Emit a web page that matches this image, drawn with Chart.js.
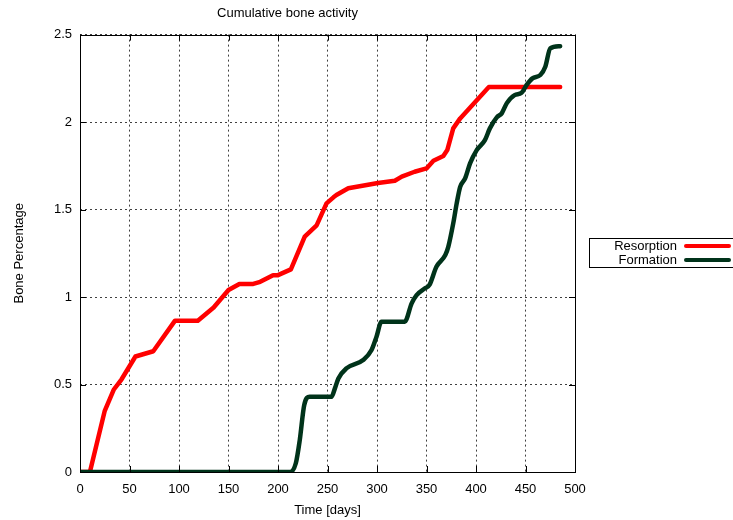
<!DOCTYPE html>
<html lang="en">
<head>
    <meta charset="UTF-8">
    <title>Cumulative bone activity</title>
    <script src="https://cdn.jsdelivr.net/npm/chart.js"></script>
    <style>
        body { margin: 0; padding: 0; background: #fff; }
        #wrap { width: 733px; height: 520px; position: relative; }
    </style>
</head>
<body>
<div id="wrap"><canvas id="boneChart"></canvas></div>
<script>
    // values
    const resorptionDays = [0, 10, 25, 34, 42, 56, 74, 96, 119, 135, 150, 161, 175, 182, 195, 200, 213, 227, 239, 249, 256, 259, 271, 301, 318, 325, 338, 350, 357, 367, 371, 377, 384, 413, 485];
    const resorptionVals = [0, 0, 0.35, 0.47, 0.53, 0.66, 0.69, 0.865, 0.865, 0.94, 1.04, 1.075, 1.075, 1.087, 1.125, 1.125, 1.158, 1.345, 1.41, 1.535, 1.57, 1.583, 1.622, 1.652, 1.665, 1.688, 1.716, 1.735, 1.779, 1.806, 1.84, 1.964, 2.021, 2.2, 2.2];

    const formationDays = [0, 212, 218, 222, 226.5, 232, 254, 257.5, 261, 269, 286, 294.5, 299.5, 304.5, 328, 335, 340, 348.5, 353, 360, 369, 372, 377, 380.5, 384, 389, 394, 400.7, 409, 414, 421, 426, 431, 439, 446, 451, 457, 465, 470, 475, 485];
    const formationVals = [0, 0, 0.05, 0.183, 0.383, 0.43, 0.43, 0.478, 0.535, 0.592, 0.64, 0.697, 0.773, 0.859, 0.859, 0.964, 1.011, 1.05, 1.069, 1.173, 1.24, 1.287, 1.421, 1.535, 1.63, 1.678, 1.764, 1.84, 1.897, 1.964, 2.027, 2.05, 2.107, 2.154, 2.167, 2.211, 2.25, 2.269, 2.316, 2.421, 2.434];

    const xTicks = [0, 50, 100, 150, 200, 250, 300, 350, 400, 450, 500];
    const yTicks = [0, 0.5, 1, 1.5, 2, 2.5];

    const seriesNames = ['Resorption', 'Formation'];
    const seriesColors = ['#ff0000', '#00331a'];

    const fontFamily = "'Liberation Sans', Arial, sans-serif";

    function toPoints(xs, ys) {
        return xs.map((x, i) => ({x: x, y: ys[i]}));
    }

    // frame + inward ticks like gnuplot
    const framePlugin = {
        id: 'frame',
        afterDatasetsDraw(chart) {
            const {ctx, chartArea: a, scales} = chart;
            ctx.save();
            ctx.strokeStyle = '#000';
            ctx.lineWidth = 1;
            ctx.beginPath();
            xTicks.forEach(v => {
                const px = Math.round(scales.x.getPixelForValue(v)) + 0.5;
                ctx.moveTo(px, a.bottom); ctx.lineTo(px, a.bottom - 6);
                ctx.moveTo(px, a.top); ctx.lineTo(px, a.top + 6);
            });
            yTicks.forEach(v => {
                const py = Math.round(scales.y.getPixelForValue(v)) + 0.5;
                ctx.moveTo(a.left, py); ctx.lineTo(a.left + 6, py);
                ctx.moveTo(a.right, py); ctx.lineTo(a.right - 6, py);
            });
            ctx.stroke();
            ctx.strokeRect(Math.round(a.left) + 0.5, Math.round(a.top) + 0.5,
                Math.round(a.right - a.left), Math.round(a.bottom - a.top));
            ctx.restore();
        }
    };

    // gnuplot style key: text then line sample, in a box
    const keyPlugin = {
        id: 'key',
        afterDraw(chart) {
            const ctx = chart.ctx;
            const boxX = 589.5, boxY = 238.5, boxW = 160, boxH = 29;
            ctx.save();
            ctx.strokeStyle = '#000';
            ctx.lineWidth = 1;
            ctx.strokeRect(boxX, boxY, boxW, boxH);
            ctx.font = '13px ' + fontFamily;
            ctx.textAlign = 'right';
            ctx.textBaseline = 'middle';
            seriesNames.forEach((name, i) => {
                const y = 246 + i * 14;
                ctx.fillStyle = '#000';
                ctx.fillText(name, 677, y);
                ctx.strokeStyle = seriesColors[i];
                ctx.lineWidth = 4;
                ctx.lineCap = 'round';
                ctx.beginPath();
                ctx.moveTo(686, y);
                ctx.lineTo(729, y);
                ctx.stroke();
            });
            ctx.restore();
        }
    };

    const gridOpts = {
        color: 'rgba(0,0,0,0.75)',
        lineWidth: 1,
        drawTicks: false
    };

    new Chart(document.getElementById('boneChart'), {
        type: 'line',
        data: {
            datasets: [
                {
                    label: seriesNames[0],
                    data: toPoints(resorptionDays, resorptionVals),
                    borderColor: seriesColors[0],
                    backgroundColor: seriesColors[0],
                    borderWidth: 4.5,
                    pointRadius: 0,
                    tension: 0,
                    order: 1,
                    borderCapStyle: 'round',
                    borderJoinStyle: 'round'
                },
                {
                    label: seriesNames[1],
                    data: toPoints(formationDays, formationVals),
                    borderColor: seriesColors[1],
                    backgroundColor: seriesColors[1],
                    borderWidth: 4.5,
                    pointRadius: 0,
                    order: 0,
                    cubicInterpolationMode: 'monotone',
                    borderCapStyle: 'round',
                    borderJoinStyle: 'round'
                }
            ]
        },
        options: {
            responsive: true,
            maintainAspectRatio: false,
            animation: false,
            layout: { padding: { top: 0, right: 158, bottom: 0, left: 0 } },
            plugins: {
                legend: { display: false },
                tooltip: { enabled: false },
                title: {
                    display: true,
                    text: 'Cumulative bone activity',
                    color: '#000',
                    font: { family: fontFamily, size: 13, weight: 'normal' },
                    padding: { top: 6, bottom: 13 }
                }
            },
            scales: {
                x: {
                    type: 'linear',
                    min: 0,
                    max: 500,
                    afterBuildTicks: s => { s.ticks = xTicks.map(v => ({value: v})); },
                    afterFit: s => { s.height = 48; },
                    grid: gridOpts,
                    border: { display: false, dash: [2, 3] },
                    ticks: {
                        color: '#000',
                        padding: 10,
                        maxRotation: 0,
                        font: { family: fontFamily, size: 13 }
                    },
                    title: {
                        display: true,
                        text: 'Time [days]',
                        color: '#000',
                        font: { family: fontFamily, size: 13 },
                        padding: { top: 0, bottom: 2 }
                    }
                },
                y: {
                    type: 'linear',
                    min: 0,
                    max: 2.5,
                    afterBuildTicks: s => { s.ticks = yTicks.map(v => ({value: v})); },
                    afterFit: s => { s.width = 80; },
                    grid: gridOpts,
                    border: { display: false, dash: [2, 3] },
                    ticks: {
                        color: '#000',
                        padding: 8,
                        font: { family: fontFamily, size: 13 },
                        callback: v => String(v)
                    },
                    title: {
                        display: true,
                        text: 'Bone Percentage',
                        color: '#000',
                        font: { family: fontFamily, size: 13 },
                        padding: { top: 12, bottom: 0 }
                    }
                }
            }
        },
        plugins: [framePlugin, keyPlugin]
    });
</script>
</body>
</html>
